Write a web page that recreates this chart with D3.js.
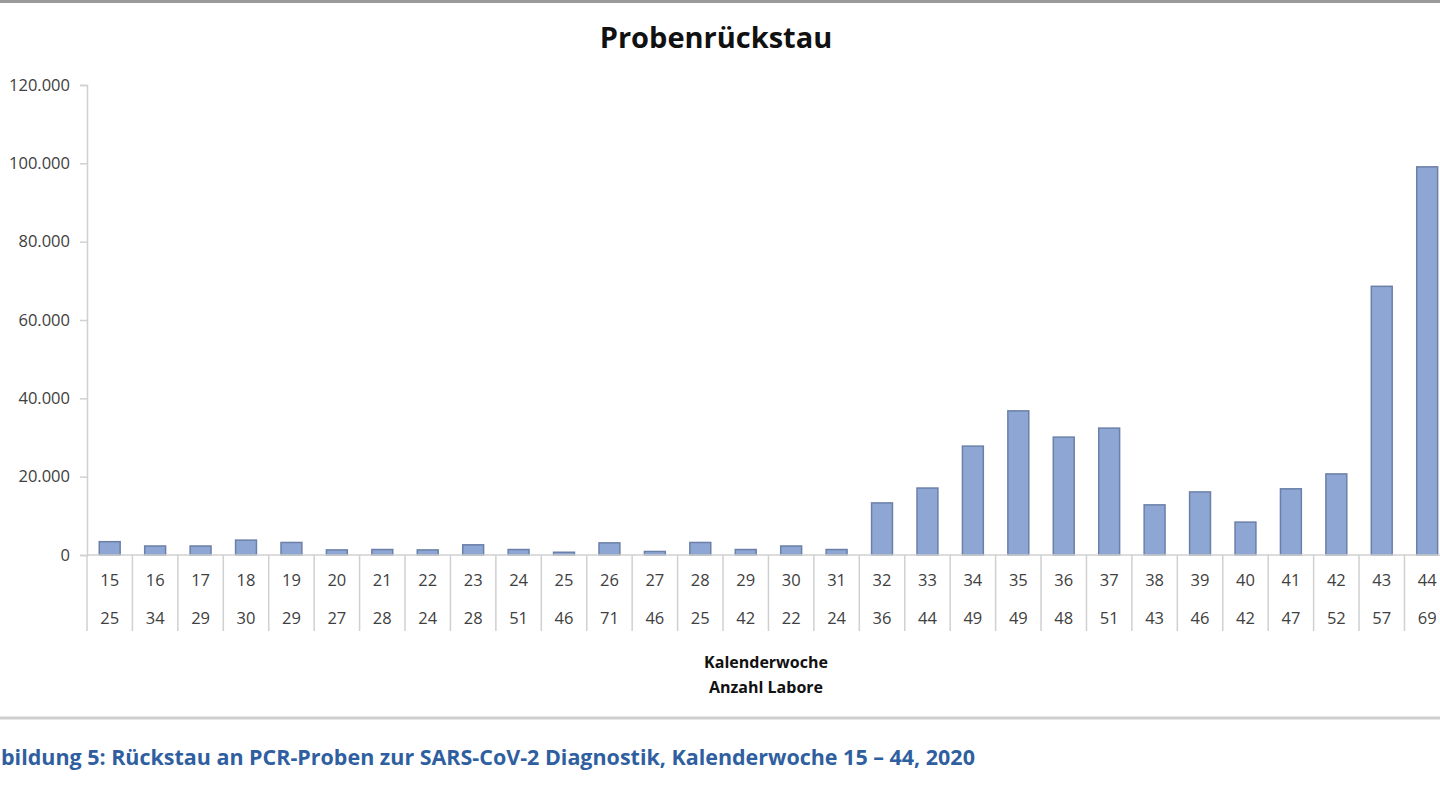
<!DOCTYPE html>
<html>
<head>
<meta charset="utf-8">
<script src="https://cdn.jsdelivr.net/npm/d3@7"></script>
<style>
  body { margin: 0; background: #fff; overflow: hidden; }
  svg { display: block; }
  text { font-family: "Open Sans", "Noto Sans", sans-serif; }
</style>
</head>
<body>
<div id="chart"></div>
<script>
// Kalenderwoche, Anzahl Labore, Probenrückstau
var weeks = [15,16,17,18,19,20,21,22,23,24,25,26,27,28,29,30,31,32,33,34,35,36,37,38,39,40,41,42,43,44];
var labs = [25,34,29,30,29,27,28,24,28,51,46,71,46,25,42,22,24,36,44,49,49,48,51,43,46,42,47,52,57,69];
var backlog = [3400,2300,2300,3800,3200,1300,1400,1300,2600,1400,700,3100,900,3200,1400,2300,1400,
               13300,17100,27800,36800,30100,32400,12800,16100,8400,16900,20700,68600,99100];
var yTicks = [0,20000,40000,60000,80000,100000,120000];

var width = 1440, height = 810;
var margin = {left: 87, top: 85, bottom: 555};

var svg = d3.select("#chart").append("svg")
    .attr("width", width)
    .attr("height", height);

var de = d3.formatLocale({decimal: ",", thousands: ".", grouping: [3], currency: ["", " €"]});

// frame lines of the chart area
svg.append("line")
    .attr("x1", 0).attr("x2", width).attr("y1", 1.5).attr("y2", 1.5)
    .attr("stroke", "#9a9a9a").attr("stroke-width", 3);
svg.append("line")
    .attr("x1", 0).attr("x2", width).attr("y1", 718).attr("y2", 718)
    .attr("stroke", "#cfcfcf").attr("stroke-width", 3);

svg.append("text")
    .attr("x", 716).attr("y", 48)
    .attr("text-anchor", "middle")
    .attr("font-size", 29).attr("font-weight", "bold")
    .attr("fill", "#111")
    .text("Probenrückstau");

var x = d3.scaleBand()
    .domain(weeks)
    .range([margin.left, margin.left + 30 * 45.43])
    .paddingInner(0.54)
    .paddingOuter(0.27);

var y = d3.scaleLinear()
    .domain([0, 120000])
    .range([margin.bottom, margin.top]);

// y axis
var yAxis = d3.axisLeft(y)
    .tickValues(yTicks)
    .tickSize(7)
    .tickPadding(10)
    .tickFormat(de.format(",.0f"));

var yg = svg.append("g")
    .attr("transform", "translate(" + margin.left + ",0)")
    .call(yAxis);
yg.select(".domain").attr("stroke", "#d0d0d0").attr("stroke-width", 1.5);
yg.selectAll(".tick line").attr("stroke", "#d0d0d0").attr("stroke-width", 1.5);
yg.selectAll(".tick text")
    .attr("font-size", 16.5).attr("fill", "#404040")
    .attr("font-family", "Open Sans, sans-serif");

// bars
svg.append("g").selectAll("rect")
    .data(weeks)
    .enter()
    .append("rect")
    .attr("x", function(d){ return x(d); })
    .attr("width", x.bandwidth())
    .attr("y", function(d, i){ return y(backlog[i]); })
    .attr("height", function(d, i){ return y(0) - y(backlog[i]); })
    .attr("fill", "#8ea6d3")
    .attr("stroke", "#6b80a8")
    .attr("stroke-width", 1.5);

// baseline
svg.append("line")
    .attr("x1", margin.left).attr("x2", width)
    .attr("y1", y(0)).attr("y2", y(0))
    .attr("stroke", "#d0d0d0").attr("stroke-width", 1.5);

// category separators (multi-level axis)
var step = x.step();
svg.append("g").selectAll("line")
    .data(d3.range(weeks.length + 1))
    .enter()
    .append("line")
    .attr("x1", function(i){ return margin.left + i * step; })
    .attr("x2", function(i){ return margin.left + i * step; })
    .attr("y1", y(0))
    .attr("y2", 631)
    .attr("stroke", "#d0d0d0").attr("stroke-width", 1.5);

var cats = svg.append("g");
cats.selectAll(".kw")
    .data(weeks)
    .enter()
    .append("text")
    .attr("class", "kw")
    .attr("x", function(d){ return x(d) + x.bandwidth() / 2; })
    .attr("y", 586)
    .attr("text-anchor", "middle")
    .attr("font-size", 16.5).attr("fill", "#404040")
    .text(function(d){ return d; });
cats.selectAll(".lab")
    .data(weeks)
    .enter()
    .append("text")
    .attr("class", "lab")
    .attr("x", function(d){ return x(d) + x.bandwidth() / 2; })
    .attr("y", 624)
    .attr("text-anchor", "middle")
    .attr("font-size", 16.5).attr("fill", "#404040")
    .text(function(d, i){ return labs[i]; });

svg.append("text")
    .attr("x", 766).attr("y", 668)
    .attr("text-anchor", "middle")
    .attr("font-size", 16).attr("font-weight", "bold").attr("fill", "#111")
    .text("Kalenderwoche");
svg.append("text")
    .attr("x", 766).attr("y", 693)
    .attr("text-anchor", "middle")
    .attr("font-size", 16).attr("font-weight", "bold").attr("fill", "#111")
    .text("Anzahl Labore");

// caption: the reference crop only shows it from "bildung" on
var cap = svg.append("text")
    .attr("x", 1)
    .attr("y", 765)
    .attr("font-size", 19).attr("font-weight", "bold").attr("fill", "#2f5fa0")
    .text("bildung 5: Rückstau an PCR-Proben zur SARS-CoV-2 Diagnostik, Kalenderwoche 15 – 44, 2020");
// scale font so the caption ends near x = 975
var capLen = cap.node().getComputedTextLength();
cap.attr("font-size", 19 * 974 / capLen);
</script>
</body>
</html>
